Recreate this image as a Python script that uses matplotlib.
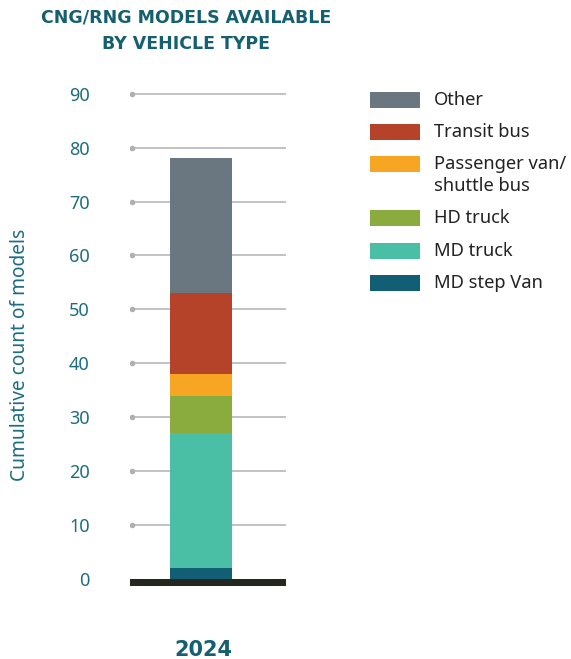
import matplotlib
matplotlib.use("Agg")
import matplotlib.pyplot as plt
from matplotlib.patches import Rectangle

# model counts per vehicle type, stacked bottom to top
categories = ["MD step Van", "MD truck", "HD truck", "Passenger van/\nshuttle bus", "Transit bus", "Other"]
counts = [2, 25, 7, 4, 15, 25]
colors = ["#125f75", "#4bbfa5", "#8aac3e", "#f6a623", "#b5432a", "#6b7780"]
year = "2024"
yticks = [0, 10, 20, 30, 40, 50, 60, 70, 80, 90]

teal = "#1c6d80"
title_col = "#145f70"
plt.rcParams['font.family'] = ['Noto Sans', 'DejaVu Sans']

W, H = 571, 659
fig = plt.figure(figsize=(W / 100, H / 100), dpi=100)

# main axes in pixel terms: x 130..286, y 0 at 579
ax = fig.add_axes([130 / W, (H - 587) / H, 156 / W, 504 / H])
ax.set_xlim(0, 1)
ax.set_ylim(-1.5, 92)

# grid lines with a dot at the left end
for t in yticks[1:]:
    ax.plot([0.013, 1], [t, t], color="#bdbdbd", lw=1.3, zorder=1)
    ax.plot([0.013], [t], marker="o", ms=3, color="#b0b0b0", zorder=1)

bottom = 0
for c, col in zip(counts, colors):
    ax.bar(0.455, c, width=0.397, bottom=bottom, color=col, zorder=2)
    bottom += c

# heavy baseline
ax.axhspan(-1.35, 0, xmin=0, xmax=1, color="#23271d", zorder=3, lw=0)

ax.set_yticks(yticks)
ax.set_yticklabels([str(t) for t in yticks], fontsize=13, color=teal)
ax.tick_params(axis="y", length=0, pad=29)
ax.set_xticks([])
for s in ax.spines.values():
    s.set_visible(False)
ax.set_ylabel("Cumulative count of models", fontsize=13.8, color=teal)
ax.yaxis.set_label_coords(-0.64, 0.46)

fig.text(186 / W, 1 - 17 / H, "CNG/RNG MODELS AVAILABLE", ha="center", va="center",
         fontsize=12.5, fontweight="heavy", color=title_col, family="DejaVu Sans")
fig.text(186 / W, 1 - 44 / H, "BY VEHICLE TYPE", ha="center", va="center",
         fontsize=12.5, fontweight="heavy", color=title_col, family="DejaVu Sans")
fig.text(203 / W, 1 - 650 / H, year, ha="center", va="center",
         fontsize=15, fontweight="heavy", color=title_col, family="DejaVu Sans")

# legend, drawn top to bottom in pixel coordinates
lax = fig.add_axes([0, 0, 1, 1])
lax.set_xlim(0, W)
lax.set_ylim(H, 0)
lax.axis("off")
rows = [100, 132, 164, 218, 251, 283]
for y, lab, col in zip(rows, categories[::-1], colors[::-1]):
    lax.add_patch(Rectangle((370, y - 8), 50, 16, color=col, lw=0))
    lines = lab.split("\n")
    for i, line in enumerate(lines):
        lax.text(434, y + 22 * i, line, ha="left", va="center", fontsize=13.2, color="#222222")

fig.savefig("out.png", dpi=100)
